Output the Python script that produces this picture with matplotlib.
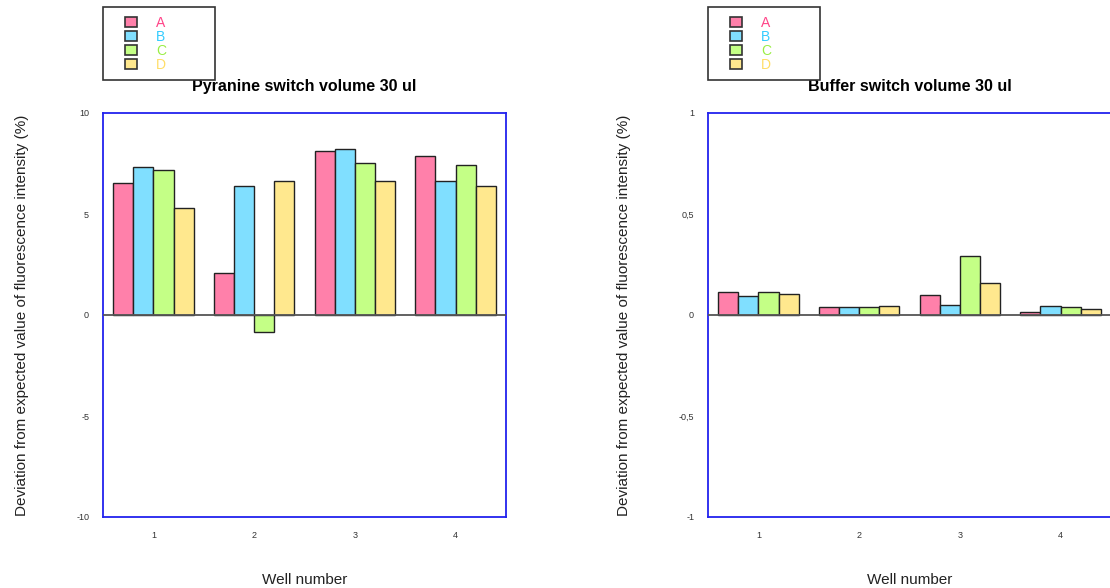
import numpy as np
import matplotlib
matplotlib.use("Agg")
import matplotlib.pyplot as plt
from matplotlib.patches import Patch, Rectangle

plt.rcParams['font.family'] = ['Liberation Sans', 'DejaVu Sans']

wells = [1, 2, 3, 4]
series = ['A', 'B', 'C', 'D']

# Pyranine switch volume 30 ul
pyr_A = [6.55, 2.06, 8.12, 7.89]
pyr_B = [7.33, 6.39, 8.24, 6.62]
pyr_C = [7.16, -0.82, 7.51, 7.44]
pyr_D = [5.28, 6.62, 6.62, 6.39]

# Buffer switch volume 30 ul
buf_A = [0.112, 0.038, 0.100, 0.013]
buf_B = [0.094, 0.038, 0.051, 0.045]
buf_C = [0.112, 0.038, 0.290, 0.038]
buf_D = [0.105, 0.045, 0.160, 0.028]

pyr_yticks = [-10, -5, 0, 5, 10]
pyr_yticklabels = ['-10', '-5', '0', '5', '10']
buf_yticks = [-1, -0.5, 0, 0.5, 1]
buf_yticklabels = ['-1', '-0,5', '0', '0,5', '1']

fill_colors = ['#ff80aa', '#80dfff', '#c4ff86', '#ffe88e']
text_colors = ['#ff4488', '#33ccff', '#99ee44', '#ffdd66']

W, H = 1110, 588
fig = plt.figure(figsize=(W / 100, H / 100), dpi=100)


def draw_panel(left_px, data, title, yticks, yticklabels):
    ax = fig.add_axes([left_px / W, 1 - 517 / H, 403 / W, 404 / H])
    x = np.array(wells)
    w = 0.2
    for i, vals in enumerate(data):
        ax.bar(x + (i - 1.5) * w, vals, width=w, color=fill_colors[i],
               edgecolor='#222222', linewidth=1.0, zorder=2)
    ax.axhline(0, color='#555555', linewidth=1.3, zorder=3)
    ax.set_xlim(0.5, 4.5)
    ax.set_ylim(yticks[0], yticks[-1])
    ax.set_xticks(wells)
    ax.set_xticklabels([str(v) for v in wells], fontsize=6.5, color='#333333')
    ax.set_yticks(yticks)
    ax.set_yticklabels(yticklabels, fontsize=6.5, color='#333333')
    ax.tick_params(length=0, pad=10)
    for s in ax.spines.values():
        s.set_color('#2222ee')
        s.set_linewidth(1.3)
    ax.set_title(title, fontsize=11.5, fontweight='bold', pad=16)
    ax.set_xlabel('Well number', fontsize=11, labelpad=24, color='#222222')
    ax.set_ylabel('Deviation from expected value of fluorescence intensity (%)',
                  fontsize=11, labelpad=34, color='#222222')

    # legend box above the axes
    fig.add_artist(Rectangle((left_px / W, 1 - 80 / H), 112 / W, 73 / H,
                             transform=fig.transFigure, facecolor='white',
                             edgecolor='#333333', linewidth=1.2))
    handles = [Patch(facecolor=fill_colors[i], edgecolor='#333333', linewidth=1.2)
               for i in range(4)]
    fig.legend(handles, series, loc='upper left',
               bbox_to_anchor=((left_px + 22) / W, 1 - 16 / H),
               bbox_transform=fig.transFigure,
               fontsize=10, labelcolor=text_colors, frameon=False,
               handlelength=0.85, handleheight=0.8,
               handletextpad=1.4, labelspacing=0.0, borderpad=0,
               borderaxespad=0)
    return ax


draw_panel(103, [pyr_A, pyr_B, pyr_C, pyr_D], 'Pyranine switch volume 30 ul',
           pyr_yticks, pyr_yticklabels)
draw_panel(708, [buf_A, buf_B, buf_C, buf_D], 'Buffer switch volume 30 ul',
           buf_yticks, buf_yticklabels)

fig.savefig('out.png', dpi=100)
